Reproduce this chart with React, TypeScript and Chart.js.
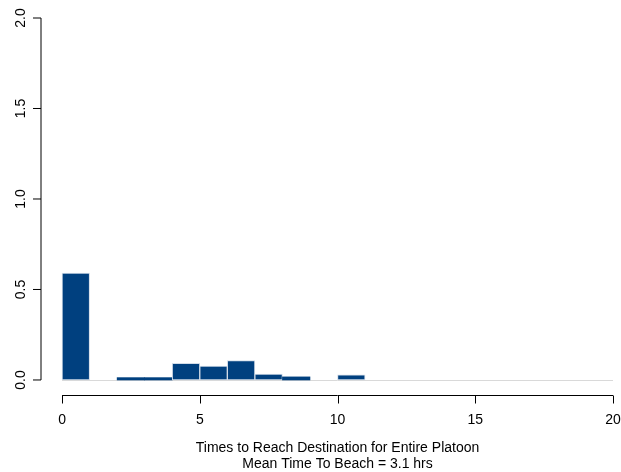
import React, { useEffect, useRef } from "react";
import { Chart, registerables } from "chart.js";

Chart.register(...registerables);

// Histogram bins (width 1 hour), left edges
const binStarts = [0, 1, 2, 3, 4, 5, 6, 7, 8, 9, 10, 11, 12, 13, 14, 15, 16, 17, 18, 19];
const binWidth = 1;
// Density per bin
const density = [0.59, 0, 0.013, 0.013, 0.092, 0.077, 0.107, 0.032, 0.017, 0, 0.028, 0, 0, 0, 0, 0, 0, 0, 0, 0];

const xTicks = [0, 5, 10, 15, 20];
const xTickLabels = ["0", "5", "10", "15", "20"];
const yTicks = [0, 0.5, 1, 1.5, 2];
const yTickLabels = ["0.0", "0.5", "1.0", "1.5", "2.0"];

const xTitle = "Times to Reach Destination for Entire Platoon";
const subTitle = "Mean Time To Beach = 3.1 hrs";

const FONT = '14px "Liberation Sans", Arial, sans-serif';

export default function App() {
  const ref = useRef<HTMLCanvasElement | null>(null);

  useEffect(() => {
    const canvas = ref.current;
    if (!canvas) return;

    const axesPlugin = {
      id: "rAxes",
      beforeDatasetsDraw(chart: any) {
        const { ctx, scales } = chart;
        const xs = scales.x;
        const ys = scales.y;
        const y0 = ys.getPixelForValue(0);
        ctx.save();
        ctx.strokeStyle = "#d9d9d9";
        ctx.lineWidth = 1;
        ctx.beginPath();
        ctx.moveTo(xs.getPixelForValue(binStarts[0]), Math.round(y0) + 0.5);
        ctx.lineTo(xs.getPixelForValue(binStarts[binStarts.length - 1] + binWidth), Math.round(y0) + 0.5);
        ctx.stroke();
        ctx.restore();
      },
      afterDraw(chart: any) {
        const { ctx, scales, chartArea } = chart;
        const xs = scales.x;
        const ys = scales.y;
        ctx.save();
        ctx.strokeStyle = "#000";
        ctx.fillStyle = "#000";
        ctx.lineWidth = 1;
        ctx.font = FONT;

        // x axis
        const ax = chartArea.bottom + 0.5;
        const xa = xs.getPixelForValue(xTicks[0]);
        const xb = xs.getPixelForValue(xTicks[xTicks.length - 1]);
        ctx.beginPath();
        ctx.moveTo(xa, ax);
        ctx.lineTo(xb, ax);
        xTicks.forEach((v) => {
          const px = Math.round(xs.getPixelForValue(v)) + 0.5;
          ctx.moveTo(px, ax);
          ctx.lineTo(px, ax + 8);
        });
        ctx.stroke();
        ctx.textAlign = "center";
        ctx.textBaseline = "alphabetic";
        xTicks.forEach((v, i) => {
          ctx.fillText(xTickLabels[i], xs.getPixelForValue(v), chartArea.bottom + 28.5);
        });

        // y axis
        const ay = chartArea.left + 1;
        const ya = ys.getPixelForValue(yTicks[0]);
        const yb = ys.getPixelForValue(yTicks[yTicks.length - 1]);
        ctx.beginPath();
        ctx.moveTo(ay, ya);
        ctx.lineTo(ay, yb);
        yTicks.forEach((v) => {
          const py = ys.getPixelForValue(v);
          ctx.moveTo(ay, py);
          ctx.lineTo(ay - 8, py);
        });
        ctx.stroke();
        yTicks.forEach((v, i) => {
          ctx.save();
          ctx.translate(chartArea.left - 15, ys.getPixelForValue(v));
          ctx.rotate(-Math.PI / 2);
          ctx.textAlign = "center";
          ctx.textBaseline = "alphabetic";
          ctx.fillText(yTickLabels[i], 0, 0);
          ctx.restore();
        });

        // titles
        const cx = (xa + xb) / 2;
        ctx.textAlign = "center";
        ctx.fillText(xTitle, cx, chartArea.bottom + 57);
        ctx.fillText(subTitle, cx, chartArea.bottom + 73);
        ctx.restore();
      },
    };

    const chart = new Chart(canvas, {
      type: "bar",
      data: {
        datasets: [
          {
            data: binStarts.map((b, i) => ({ x: b + binWidth / 2, y: density[i] })),
            backgroundColor: (c: any) => (c.raw && c.raw.y > 0 ? "#00407f" : "rgba(0,0,0,0)"),
            borderColor: "#d2dce8",
            borderWidth: (c: any) => (c.raw && c.raw.y > 0 && c.raw.y < 0.02 ? 0 : 1),
            borderSkipped: false,
            barPercentage: 1,
            categoryPercentage: 1,
          } as any,
        ],
      },
      options: {
        animation: false,
        responsive: false,
        maintainAspectRatio: false,
        devicePixelRatio: 1,
        layout: { padding: { left: 40, top: 18, right: 8, bottom: 77 } },
        plugins: { legend: { display: false }, tooltip: { enabled: false }, title: { display: false } },
        scales: {
          x: {
            type: "linear",
            min: -0.8,
            max: 20,
            offset: false,
            display: false,
            afterBuildTicks: (s: any) => {
              s.ticks = xTicks.map((v) => ({ value: v }));
            },
          },
          y: {
            type: "linear",
            min: -0.083,
            max: 2,
            display: false,
            afterBuildTicks: (s: any) => {
              s.ticks = yTicks.map((v) => ({ value: v }));
            },
          },
        },
      } as any,
      plugins: [axesPlugin],
    });

    return () => chart.destroy();
  }, []);

  return (
    <div style={{ position: "fixed", left: 0, top: 0, width: 621, height: 472, background: "#fff" }}>
      <canvas ref={ref} width={621} height={472} style={{ width: 621, height: 472, display: "block" }} />
    </div>
  );
}
